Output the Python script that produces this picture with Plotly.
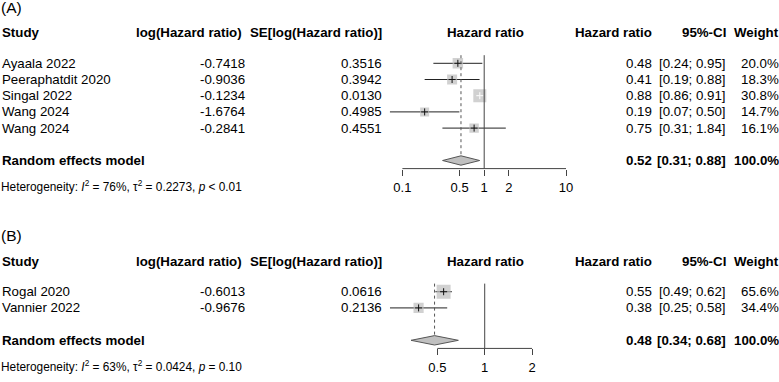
import math
import plotly.graph_objects as go

# ---------------- data ----------------
A_studies = ["Ayaala 2022", "Peeraphatdit 2020", "Singal 2022", "Wang 2024", "Wang 2024"]
A_loghr = [-0.7418, -0.9036, -0.1234, -1.6764, -0.2841]
A_se = [0.3516, 0.3942, 0.0130, 0.4985, 0.4551]
A_weight = [20.0, 18.3, 30.8, 14.7, 16.1]
A_pooled = [0.52, 0.31, 0.88]          # estimate, lower, upper
A_pooled_weight = 100.0
A_het = ["76%", "0.2273", "< 0.01"]
A_ticks = [0.1, 0.5, 1, 2, 10]

B_studies = ["Rogal 2020", "Vannier 2022"]
B_loghr = [-0.6013, -0.9676]
B_se = [0.0616, 0.2136]
B_weight = [65.6, 34.4]
B_pooled = [0.48, 0.34, 0.68]
B_pooled_weight = 100.0
B_het = ["63%", "0.0424", "= 0.10"]
B_ticks = [0.5, 1, 2]

# ---------------- layout constants ----------------
W, H = 779, 382
FONT = "Liberation Sans, Arial, Helvetica, sans-serif"
FS = 13.3
ROW_PX0, ROW_SP = 63.3, 16.2


def row_px(r):
    return ROW_PX0 + (r - 1) * ROW_SP


Y_TOP = 1 - ROW_PX0 / ROW_SP
Y_BOT = 1 + (H - ROW_PX0) / ROW_SP

fig = go.Figure()
annotations = []
shapes = []


def txt(x_px, r, text, anchor="left", bold=False, size=FS):
    if bold:
        text = "<b>" + text + "</b>"
    annotations.append(dict(
        x=x_px / W, xref="paper", y=r, yref="y", text=text, showarrow=False,
        xanchor=anchor, yanchor="middle", font=dict(family=FONT, size=size, color="black"),
        borderpad=0))


def panel(label, studies, loghr, se, weight, pooled, pooled_w, het, ticks, first_row,
          xname, one_px, px_per_dec, max_box):
    xa = "x" if xname == "xaxis" else "x" + xname[5:]
    n = len(studies)
    rows = [first_row + i for i in range(n)]
    re_row = first_row + n + 1
    axis_row = re_row + 0.5
    hdr_row = first_row - 1.88
    lab_row = first_row - 3.45
    het_row = re_row + 1.6

    hr = [math.exp(v) for v in loghr]
    lo = [math.exp(v - 1.959964 * s) for v, s in zip(loghr, se)]
    hi = [math.exp(v + 1.959964 * s) for v, s in zip(loghr, se)]

    # text columns
    txt(0, lab_row, label, size=15.5)
    txt(1, hdr_row, "Study", bold=True)
    txt(242.5, hdr_row, "log(Hazard ratio)", "right", True)
    txt(383, hdr_row, "SE[log(Hazard ratio)]", "right", True)
    txt(485, hdr_row, "Hazard ratio", "center", True)
    txt(652.5, hdr_row, "Hazard ratio", "right", True)
    txt(727, hdr_row, "95%-CI", "right", True)
    txt(779.5, hdr_row, "Weight", "right", True)
    for r, s, l, e, h, lw, hw, w in zip(rows, studies, loghr, se, hr, lo, hi, weight):
        txt(1, r, s)
        txt(245.5, r, f"{l:.4f}", "right")
        txt(383, r, f"{e:.4f}", "right")
        txt(652.5, r, f"{h:.2f}", "right")
        txt(727, r, f"[{lw:.2f}; {hw:.2f}]", "right")
        txt(779.5, r, f"{w:.1f}%", "right")
    txt(1, re_row, "Random effects model", bold=True)
    txt(652.5, re_row, f"{pooled[0]:.2f}", "right", True)
    txt(727, re_row, f"[{pooled[1]:.2f}; {pooled[2]:.2f}]", "right", True)
    txt(779.5, re_row, f"{pooled_w:.1f}%", "right", True)
    txt(0, het_row, "Heterogeneity: <i>I</i><sup>2</sup> = " + het[0] + ", τ<sup>2</sup> = "
        + het[1] + ", <i>p</i> " + het[2], size=11.85)

    # reference lines
    shapes.append(dict(type="line", xref=xa, yref="y", x0=1, x1=1,
                       y0=first_row - 0.5, y1=axis_row, line=dict(color="#444", width=1)))
    shapes.append(dict(type="line", xref=xa, yref="y", x0=pooled[0], x1=pooled[0],
                       y0=first_row - 0.5, y1=re_row - 0.3,
                       line=dict(color="#555", width=1, dash="dot")))
    shapes.append(dict(type="line", xref=xa, yref="y", x0=min(ticks), x1=max(ticks),
                       y0=axis_row, y1=axis_row, line=dict(color="#444", width=1)))

    # CI lines
    for r, l, h in zip(rows, lo, hi):
        fig.add_trace(go.Scatter(x=[l, h], y=[r, r], mode="lines", xaxis=xa, yaxis="y",
                                 line=dict(color="#222", width=1), showlegend=False,
                                 hoverinfo="skip"))
    # squares
    wmax = max(weight)
    sizes = [max_box * math.sqrt(w / wmax) for w in weight]
    fig.add_trace(go.Scatter(x=hr, y=rows, mode="markers", xaxis=xa, yaxis="y",
                             marker=dict(symbol="square", size=sizes, color="#bdbdbd",
                                         line=dict(width=0)),
                             showlegend=False, hoverinfo="skip"))
    # centre crosses (white when CI is inside the box)
    ccol = []
    for l, h, s in zip(lo, hi, sizes):
        wpx = (math.log10(h) - math.log10(l)) * px_per_dec
        ccol.append("white" if wpx < s else "#111")
    fig.add_trace(go.Scatter(x=hr, y=rows, mode="markers", xaxis=xa, yaxis="y",
                             marker=dict(symbol="cross-thin", size=5, color=ccol,
                                         line=dict(width=1, color=ccol)),
                             showlegend=False, hoverinfo="skip"))
    # diamond
    fig.add_trace(go.Scatter(x=[pooled[1], pooled[0], pooled[2], pooled[0], pooled[1]],
                             y=[re_row, re_row - 0.29, re_row, re_row + 0.29, re_row],
                             mode="lines", fill="toself", fillcolor="#c0c0c0",
                             line=dict(color="#555", width=1), xaxis=xa, yaxis="y",
                             showlegend=False, hoverinfo="skip"))

    # axis
    a, b = -1.25, 1.25
    lo_px = one_px + a * px_per_dec
    hi_px = one_px + b * px_per_dec
    pos = 1 - row_px(axis_row) / H
    fig.update_layout(**{xname: dict(
        type="log", range=[a, b], domain=[lo_px / W, hi_px / W],
        anchor="free", position=pos, showgrid=False, zeroline=False, showline=False,
        tickmode="array", tickvals=ticks, ticktext=[f"{t:g}" for t in ticks],
        ticks="outside", ticklen=6, tickwidth=1, tickcolor="#444",
        tickfont=dict(family=FONT, size=13, color="black"), ticklabelstandoff=1,
        fixedrange=True)})


panel("(A)", A_studies, A_loghr, A_se, A_weight, A_pooled, A_pooled_weight, A_het,
      A_ticks, 1, "xaxis", 484.2, 81.8, 13.0)
panel("(B)", B_studies, B_loghr, B_se, B_weight, B_pooled, B_pooled_weight, B_het,
      B_ticks, 15.1, "xaxis2", 484.7, 157.3, 14.0)

fig.update_layout(
    width=W, height=H, margin=dict(l=0, r=0, t=0, b=0, autoexpand=False),
    paper_bgcolor="white", plot_bgcolor="rgba(0,0,0,0)",
    yaxis=dict(range=[Y_BOT, Y_TOP], domain=[0, 1], visible=False, fixedrange=True),
    annotations=annotations, shapes=shapes, showlegend=False,
)
fig.write_html("out.html", config={"displayModeBar": False},
               post_script="document.body.style.margin='0';document.body.style.overflow='hidden';")
